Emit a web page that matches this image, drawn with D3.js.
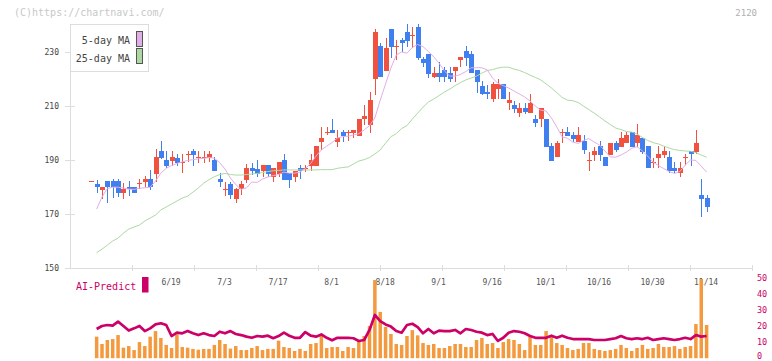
<!DOCTYPE html>
<html><head><meta charset="utf-8">
<script src="https://cdn.jsdelivr.net/npm/d3@7"></script>
<style>body{margin:0;background:#fff}svg{display:block}</style>
</head><body>
<svg id="c" width="772" height="361"></svg>
<script>
// ---- data ----
const openP=[181.9,181.0,178.9,182.1,182.1,182.1,177.8,179.9,179.9,181.0,
181.7,182.8,184.8,193.2,189.9,189.6,190.7,189.1,191.9,193.2,
190.9,190.9,190.7,189.9,182.8,178.9,181.0,175.5,179.0,182.5,
187.0,186.4,185.9,188.0,183.7,184.7,189.9,184.9,183.7,187.0,
186.9,187.6,187.6,196.6,200.0,201.0,196.6,200.1,200.0,200.0,
198.8,205.0,202.8,219.8,232.0,222.9,238.3,232.0,234.2,237.1,
236.0,239.2,227.2,229.0,220.6,221.9,223.1,222.1,222.9,226.8,
230.1,229.0,223.1,217.2,215.1,212.3,216.0,218.0,210.8,210.2,
207.1,209.2,207.1,205.0,204.9,205.0,195.0,190.9,200.2,200.1,
199.2,196.6,197.0,189.8,191.7,195.0,191.1,191.7,196.3,194.8,
196.0,200.1,196.0,198.1,195.0,189.0,190.7,191.7,191.1,187.0,
184.9,191.0,193.2,192.9,176.9,175.9];
const highP=[182.0,182.5,179.9,182.1,182.8,182.8,181.2,182.1,180.0,183.0,
183.8,186.0,193.9,196.9,193.2,193.2,192.1,192.1,193.1,193.9,
193.1,193.1,193.1,190.9,184.9,181.8,181.8,179.5,182.1,188.3,
188.6,189.9,188.0,188.0,186.8,189.3,192.0,185.0,185.9,188.0,
188.0,192.0,195.1,202.2,202.2,205.0,201.0,201.0,201.0,201.0,
205.0,210.2,215.1,238.2,233.0,235.0,238.3,234.2,234.9,240.2,
239.2,240.2,228.1,229.0,224.1,226.2,224.1,224.1,224.1,227.8,
232.0,230.2,223.1,219.2,217.6,218.8,220.0,218.0,214.9,211.8,
210.8,210.8,214.3,206.5,209.0,205.0,196.3,197.0,201.5,202.2,
200.1,202.2,199.1,192.7,194.8,197.0,191.1,196.3,197.0,200.1,
200.1,200.1,203.2,198.1,195.0,190.7,195.0,195.0,193.2,189.0,
189.0,192.0,193.2,201.0,182.8,176.9];
const lowP=[182.0,177.8,175.4,173.8,175.7,176.2,175.5,176.7,177.7,179.2,
179.8,178.8,181.6,190.3,186.8,187.7,187.6,184.9,189.0,187.7,
188.9,188.9,189.2,185.9,179.9,176.4,175.4,173.8,176.9,181.5,
184.3,183.7,183.7,183.7,181.8,183.7,182.5,179.6,181.8,182.7,
185.5,185.9,187.6,193.6,199.1,199.9,194.8,196.6,197.0,197.9,
198.8,202.8,199.9,213.9,220.7,222.9,227.7,226.8,229.9,231.8,
231.2,226.8,224.1,220.1,220.1,218.8,218.8,218.8,218.8,224.1,
224.6,221.9,214.7,213.9,212.6,211.3,212.6,212.3,208.4,207.1,
205.8,206.9,207.1,202.0,202.0,194.8,189.6,190.9,196.0,198.8,
196.6,196.6,192.0,185.8,189.6,189.6,187.7,191.7,192.9,194.8,
196.0,194.8,194.8,192.0,186.8,186.8,186.8,190.7,184.9,184.9,
183.7,188.0,187.7,192.0,168.9,170.7];
const closeP=[182.0,179.8,179.9,179.8,179.8,177.8,179.0,179.0,177.8,181.2,
182.8,179.8,191.0,190.7,187.7,190.9,188.9,189.2,192.0,191.7,
191.0,191.0,192.1,185.9,181.7,179.0,176.8,179.0,181.0,187.0,
185.9,184.7,188.0,184.7,186.8,189.2,182.5,182.5,185.9,185.9,
187.0,189.9,195.1,198.1,200.1,200.0,198.1,198.8,200.1,201.0,
205.0,206.1,212.0,237.1,220.7,231.3,231.8,232.1,233.0,234.0,
236.1,227.7,225.8,221.7,221.9,220.6,220.6,219.8,224.1,227.8,
227.7,221.9,218.8,214.2,214.2,218.0,218.0,212.3,212.0,208.7,
209.2,207.7,211.0,203.6,209.0,194.8,189.6,196.1,200.3,198.8,
197.6,199.2,193.6,189.9,193.2,191.7,187.7,196.3,193.6,197.9,
199.2,194.8,199.2,192.9,186.8,189.1,192.1,193.2,185.9,185.9,
187.0,191.1,192.0,196.3,175.4,172.6];
const ma5=[null,171.7,176.2,179.3,179.8,179.8,179.5,179.1,179.0,179.4,
179.6,179.8,182.1,185.0,186.8,187.8,188.6,189.2,189.7,190.0,
190.3,190.5,190.8,190.5,188.9,186.5,183.2,180.8,179.0,179.6,
181.7,181.6,182.8,183.6,184.1,184.5,185.4,185.0,185.0,185.4,
186.7,188.6,191.3,193.6,195.0,196.3,198.0,198.5,198.7,199.1,
199.6,201.0,202.6,205.4,212.0,218.0,223.9,228.7,229.8,229.4,
231.5,232.6,231.8,230.0,228.0,225.7,222.8,220.9,220.9,221.5,
222.6,224.0,224.0,224.0,223.2,220.2,218.2,217.4,216.5,215.4,
214.3,213.2,211.7,209.8,208.3,208.0,205.4,202.1,198.4,197.9,
196.5,196.0,197.1,197.8,196.5,195.4,193.2,191.0,190.9,191.7,
192.8,194.2,194.8,193.2,191.3,189.1,187.8,186.7,185.6,184.9,
185.6,188.0,189.9,189.7,187.6,185.4];
const ma25=[null,155.6,156.9,158.4,159.9,161.0,162.8,164.3,165.1,165.8,
167.3,168.4,169.5,171.4,172.5,173.6,174.7,175.8,176.5,178.0,
179.5,181.3,182.6,183.7,184.5,184.9,184.5,184.3,184.3,184.5,
184.7,184.9,185.2,185.6,185.9,186.0,186.2,186.2,186.2,186.2,
186.2,186.2,186.2,186.3,186.3,186.3,186.8,187.1,187.3,188.4,
189.5,190.0,190.8,192.1,193.6,196.1,198.5,199.6,201.5,202.6,
205.0,207.2,209.4,211.3,212.4,213.7,215.0,216.1,217.4,218.5,
219.5,220.2,220.9,222.0,223.0,223.3,223.9,224.2,224.2,223.5,
223.0,222.2,221.3,220.4,219.5,218.0,216.5,214.8,213.0,212.0,
211.8,211.1,209.8,208.5,207.2,205.8,204.3,203.0,201.7,201.1,
200.4,200.2,199.5,198.2,197.1,196.3,195.8,195.0,194.3,193.7,
193.4,193.2,193.1,192.6,191.7,190.9];
const volume=[null,13.2,8.6,11.1,11.7,14.2,6.3,7.3,4.8,9.8,
7.3,13.2,16.7,12.4,8.0,6.1,14.7,6.7,6.3,5.5,
5.0,5.5,5.5,8.0,11.1,8.6,5.7,7.3,4.8,4.8,
6.1,7.3,4.8,5.5,5.5,10.7,6.7,6.1,4.2,5.5,
4.2,8.6,9.2,13.6,6.1,6.7,6.7,4.2,6.7,6.1,
10.5,13.6,19.9,48.7,28.7,19.3,14.9,8.6,8.0,13.6,
17.3,14.0,9.2,8.0,8.6,6.1,6.1,7.3,8.6,8.6,
6.7,6.7,11.1,12.4,8.6,9.2,6.1,9.8,11.7,11.1,
8.6,4.8,13.0,8.0,8.0,16.7,13.0,9.2,8.0,6.1,
4.8,5.5,9.2,9.2,5.5,4.8,4.2,4.8,5.5,8.0,
6.1,4.2,6.1,8.0,5.5,6.1,8.6,6.7,6.7,7.3,
5.5,6.7,7.3,21.1,49.4,20.5];
const aiPredict=[null,18.0,19.9,20.5,20.1,22.6,19.9,17.0,18.4,19.9,
16.7,18.4,20.9,21.6,20.5,13.6,15.7,15.3,16.7,15.3,
14.2,15.3,14.2,13.6,16.3,15.3,16.7,14.9,14.2,13.2,
12.5,13.6,13.2,13.8,12.2,13.6,15.7,13.8,12.5,12.5,
16.1,13.8,13.2,14.6,12.5,10.9,12.5,12.5,12.5,12.2,
10.5,11.1,17.4,26.8,23.0,20.9,19.5,16.7,15.7,20.5,
21.3,19.2,15.3,18.0,15.3,17.0,16.7,16.7,17.4,15.3,
18.0,17.4,16.3,15.7,14.2,14.9,10.5,12.5,15.7,16.7,
16.3,15.3,13.6,12.5,12.5,12.5,13.8,12.5,13.8,12.5,
11.7,11.7,11.7,11.7,11.1,11.1,11.1,11.7,12.2,13.6,
12.2,11.7,12.2,11.7,12.5,11.1,11.7,12.2,11.7,11.1,
11.7,12.5,11.7,14.2,13.2,13.6];
const dateLabels=["6/19","7/3","7/17","8/1","8/18","9/1","9/16","10/1","10/16","10/30","11/14"];
const dateLabelIndex=[15,25,35,45,55,65,75,85,95,105,115];
const priceTicks=[150,170,190,210,230];
const volTicks=[0,10,20,30,40,50];
const legendNames=["5-day MA","25-day MA"];
const codeLabel="2120";
const copyright="(C)https://chartnavi.com/";

// ---- drawing ----
const RED="#f0523f", BLUE="#3f7fef", PINK="#e2aee8", GREEN="#acd9a2",
      CRIM="#cc0066", ORANGE="#f39a3e", GRID="#dddddd";
const FONT="'DejaVu Sans Mono', monospace";
const n=closeP.length;
const svg=d3.select("#c");
const x=d3.scaleLinear().domain([0,n-1]).range([91.3,706.6]);
const y=d3.scaleLinear().domain([150,230]).range([267.8,51.5]);
const yv=d3.scaleLinear().domain([0,50]).range([357.7,278]);
const fx=d3.scaleLinear().domain([0,11]).range([70.5,752.5]);

svg.append("text").attr("x",14).attr("y",16).attr("font-family",FONT).attr("font-size",10)
  .attr("fill","#c8c8c8").text(copyright);
svg.append("text").attr("x",757).attr("y",16).attr("text-anchor","end").attr("font-family",FONT)
  .attr("font-size",9).attr("fill","#b0b0b0").text(codeLabel);

// frame
const fg=svg.append("g").attr("shape-rendering","crispEdges");
fg.append("line").attr("x1",70.5).attr("x2",70.5).attr("y1",24).attr("y2",Math.round(y(150))+0.5)
  .attr("stroke",GRID).attr("stroke-width",1.5);
fg.append("line").attr("x1",70).attr("x2",fx(11)+0.5).attr("y1",Math.round(y(150))+0.5).attr("y2",Math.round(y(150))+0.5)
  .attr("stroke",GRID).attr("stroke-width",1.5);
fg.selectAll(".xt").data(d3.range(1,12)).join("line")
  .attr("x1",d=>fx(d)).attr("x2",d=>fx(d)).attr("y1",265).attr("y2",271)
  .attr("stroke",GRID).attr("stroke-width",1.5);
fg.selectAll(".yt").data(priceTicks).join("line")
  .attr("x1",65).attr("x2",75).attr("y1",d=>Math.round(y(d))+0.5).attr("y2",d=>Math.round(y(d))+0.5)
  .attr("stroke",GRID).attr("stroke-width",1.5);
svg.selectAll(".yl").data(priceTicks).join("text")
  .attr("x",59).attr("y",d=>y(d)+3).attr("text-anchor","end")
  .attr("font-family",FONT).attr("font-size",8).attr("fill","#444").text(d=>d);

// candles
const idx=d3.range(n);
const cg=svg.append("g").attr("shape-rendering","crispEdges");
const col=i=>closeP[i]>=openP[i]?RED:BLUE;
cg.selectAll(".w").data(idx).join("rect")
  .attr("x",i=>Math.round(x(i))).attr("width",1)
  .attr("y",i=>Math.round(y(highP[i])))
  .attr("height",i=>Math.max(1,Math.round(y(lowP[i]))-Math.round(y(highP[i]))))
  .attr("fill",col);
cg.selectAll(".b").data(idx).join("rect")
  .attr("x",i=>Math.round(x(i))-2).attr("width",5)
  .attr("y",i=>Math.round(y(Math.max(openP[i],closeP[i]))))
  .attr("height",i=>Math.max(1,Math.round(y(Math.min(openP[i],closeP[i])))-Math.round(y(Math.max(openP[i],closeP[i])))))
  .attr("fill",col);

// moving averages
const ml=arr=>d3.line().defined(i=>arr[i]!=null).x(i=>x(i)).y(i=>y(arr[i]))(idx);
svg.append("path").attr("d",ml(ma25)).attr("fill","none").attr("stroke",GREEN).attr("stroke-width",1);
svg.append("path").attr("d",ml(ma5)).attr("fill","none").attr("stroke",PINK).attr("stroke-width",1);

// legend
const lg=svg.append("g");
lg.append("rect").attr("x",70.5).attr("y",24.5).attr("width",78).attr("height",47)
  .attr("fill","#fff").attr("stroke",GRID).attr("shape-rendering","crispEdges");
[PINK,GREEN].forEach((c,k)=>{
  lg.append("rect").attr("x",136.5).attr("y",31.5+k*17).attr("width",6).attr("height",15)
    .attr("fill",c).attr("stroke","#555").attr("shape-rendering","crispEdges");
  lg.append("text").attr("x",130).attr("y",44+k*17.5).attr("text-anchor","end")
    .attr("font-family",FONT).attr("font-size",10).attr("fill","#444").text(legendNames[k]);
});

// bottom panel
svg.selectAll(".dl").data(dateLabels).join("text")
  .attr("x",(d,k)=>x(dateLabelIndex[k])-0.5).attr("y",285).attr("text-anchor","middle")
  .attr("font-family",FONT).attr("font-size",8).attr("fill","#555").text(d=>d);
svg.selectAll(".vb").data(idx.filter(i=>volume[i]!=null)).join("rect")
  .attr("x",i=>x(i)-1.75).attr("width",3.5)
  .attr("y",i=>yv(volume[i])).attr("height",i=>yv(0)-yv(volume[i])+0.5)
  .attr("fill",ORANGE);
svg.append("path").attr("d",d3.line().defined(i=>aiPredict[i]!=null).x(i=>x(i)).y(i=>yv(aiPredict[i]))(idx))
  .attr("fill","none").attr("stroke",CRIM).attr("stroke-width",2.7).attr("stroke-linejoin","round");
svg.append("text").attr("x",76).attr("y",290).attr("font-family",FONT).attr("font-size",10)
  .attr("fill",CRIM).text("AI-Predict");
svg.append("rect").attr("x",142).attr("y",277).attr("width",6.5).attr("height",15.5).attr("fill",CRIM);
svg.selectAll(".vl").data(volTicks).join("text")
  .attr("x",757).attr("y",d=>Math.min(yv(d)+3,359.3)).attr("font-family",FONT).attr("font-size",8.5)
  .attr("fill",CRIM).text(d=>d);
</script>
</body></html>
